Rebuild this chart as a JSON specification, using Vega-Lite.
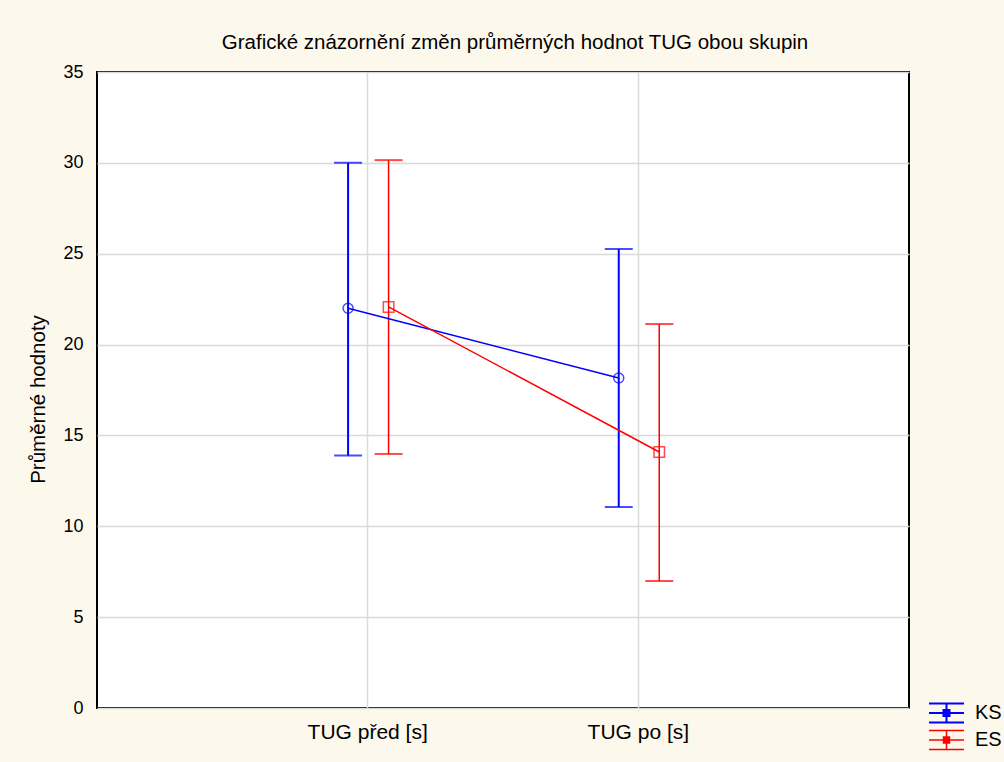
{
  "$schema": "https://vega.github.io/schema/vega-lite/v6.json",
  "autosize": "none",
  "width": 812,
  "height": 636,
  "padding": {"left": 97, "top": 72, "right": 95, "bottom": 54},
  "background": "#fdf8ec",
  "title": {
    "text": "Grafické znázornění změn průměrných hodnot TUG obou skupin",
    "font": "Liberation Sans",
    "fontSize": 20.5,
    "fontWeight": "normal",
    "color": "#000000",
    "anchor": "middle",
    "dx": 12,
    "offset": 10
  },
  "config": {
    "view": {"stroke": "#000000", "strokeWidth": 2, "fill": "#ffffff"},
    "font": "Liberation Sans"
  },
  "data": {
    "values": [
      {"time": "TUG před [s]", "grp": "KS", "mean": 22.0, "lo": 13.9, "hi": 30.0},
      {"time": "TUG před [s]", "grp": "ES", "mean": 22.07, "lo": 13.98, "hi": 30.15},
      {"time": "TUG po [s]", "grp": "KS", "mean": 18.16, "lo": 11.06, "hi": 25.26},
      {"time": "TUG po [s]", "grp": "ES", "mean": 14.09, "lo": 6.99, "hi": 21.13}
    ]
  },
  "encoding": {
    "x": {
      "field": "time",
      "type": "nominal",
      "sort": ["TUG před [s]", "TUG po [s]"],
      "scale": {"type": "band", "paddingInner": 0, "paddingOuter": 0.5},
      "axis": {
        "title": null,
        "labelAngle": 0,
        "labelFontSize": 21,
        "labelColor": "#000000",
        "labelPadding": 13,
        "ticks": false,
        "domain": false,
        "grid": true,
        "gridColor": "#dadada",
        "gridWidth": 1.5,
        "bandPosition": 0.5
      }
    },
    "xOffset": {
      "field": "grp",
      "type": "nominal",
      "sort": ["KS", "ES"],
      "scale": {"type": "band", "domain": ["KS", "ES"], "range": [95.5, 176.5], "paddingInner": 0, "paddingOuter": 0}
    },
    "color": {
      "field": "grp",
      "type": "nominal",
      "sort": ["KS", "ES"],
      "scale": {"domain": ["KS", "ES"], "range": ["#0000ff", "#ff0000"]},
      "legend": {
        "title": null,
        "orient": "none",
        "legendX": 838.5,
        "legendY": 630,
        "labelFontSize": 20,
        "labelColor": "#000000",
        "labelOffset": 17.5,
        "rowPadding": 0,
        "symbolType": "M-1.75,-0.95H1.75M-1.75,0H1.75M-1.75,0.95H1.75M0,-0.95V0.95M-0.3,-0.3H0.3V0.3H-0.3Z",
        "symbolSize": 400,
        "symbolStrokeWidth": 1.5,
        "symbolFillColor": "transparent",
        "encode": {
          "symbols": {
            "update": {
              "shape": {"value": "M-1.75,-0.95H1.75M-1.75,0H1.75M-1.75,0.95H1.75M0,-0.95V0.95M-0.3,-0.3H0.3V0.3H-0.3Z"},
              "fill": {"value": "transparent"},
              "strokeWidth": {"value": 1.5}
            }
          }
        }
      }
    }
  },
  "layer": [
    {
      "mark": {"type": "rule"},
      "encoding": {
        "y": {
          "field": "lo",
          "type": "quantitative",
          "scale": {"domain": [0, 35], "nice": false},
          "axis": {
            "title": "Průměrné hodnoty",
            "titleFontSize": 20.5,
            "titleFontWeight": "normal",
            "titleColor": "#000000",
            "titlePadding": 14,
            "titleY": 327,
            "values": [0, 5, 10, 15, 20, 25, 30, 35],
            "labelFontSize": 18,
            "labelColor": "#000000",
            "labelPadding": 14,
            "ticks": false,
            "domain": false,
            "grid": true,
            "gridColor": "#dadada",
            "gridWidth": 1.5
          }
        },
        "y2": {"field": "hi"},
        "strokeWidth": {
          "field": "grp",
          "type": "nominal",
          "scale": {"domain": ["KS", "ES"], "range": [2, 1.5]},
          "legend": null
        }
      }
    },
    {
      "mark": {"type": "tick", "size": 28, "thickness": 2, "orient": "horizontal"},
      "encoding": {"y": {"field": "lo", "type": "quantitative"}}
    },
    {
      "mark": {"type": "tick", "size": 28, "thickness": 2, "orient": "horizontal"},
      "encoding": {"y": {"field": "hi", "type": "quantitative"}}
    },
    {
      "mark": {"type": "line", "strokeWidth": 1.5},
      "encoding": {"y": {"field": "mean", "type": "quantitative"}}
    },
    {
      "transform": [{"filter": "datum.grp === 'KS'"}],
      "mark": {"type": "point", "shape": "circle", "filled": false, "size": 100, "strokeWidth": 1.5},
      "encoding": {"y": {"field": "mean", "type": "quantitative"}}
    },
    {
      "transform": [{"filter": "datum.grp === 'ES'"}],
      "mark": {"type": "point", "shape": "square", "filled": false, "size": 110, "strokeWidth": 1.5},
      "encoding": {"y": {"field": "mean", "type": "quantitative"}}
    }
  ]
}
